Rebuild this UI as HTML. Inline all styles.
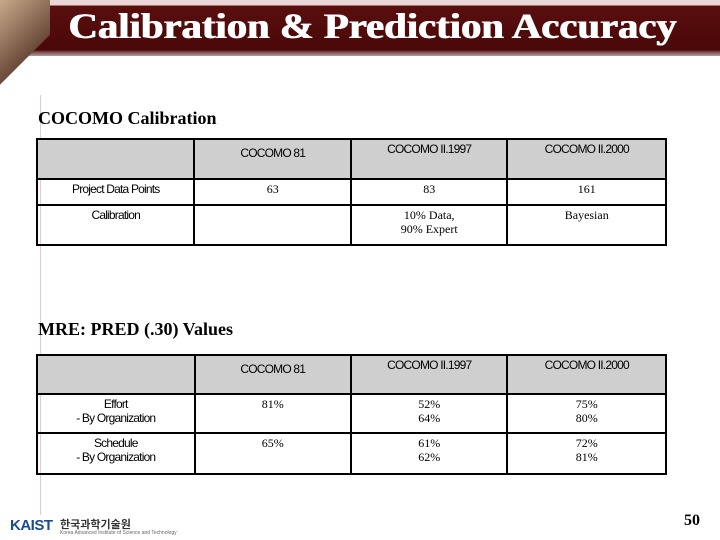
<!DOCTYPE html>
<html><head><meta charset="utf-8"><style>
body{margin:0;width:720px;height:540px;background:#fff;position:relative;overflow:hidden;font-family:"Liberation Serif",serif}
.a{position:absolute}
.hdr{left:0;top:0;width:720px;height:56px;background:linear-gradient(#e9d6d6 0,#e9d6d6 5px,#5a0e0e 6px,#4a0808 50px,#7a4a4a 52px,#f3eaea 60px,#fff 64px)}
.title{left:68px;top:5px;font:bold 36px "Liberation Serif",serif;color:#fff;white-space:nowrap;transform:scaleX(1.13);transform-origin:0 0;text-shadow:1px 0 0 #fff}
.h2{font-size:18px;font-weight:bold;color:#000;white-space:nowrap}
table{position:absolute;border-collapse:collapse;left:36px;width:631px}
td{border:2px solid #000;text-align:center;vertical-align:top;padding:2px 2px 0;font-size:12px;line-height:14px}
td.s{font-family:"Liberation Sans",sans-serif;font-size:12px;letter-spacing:-0.8px}
tr.h td{background:#cfcfcf}
</style></head><body>
<div class="a hdr"></div>
<div class="a" style="left:0;top:0;width:50px;height:90px;background:linear-gradient(135deg,#c9a98a,#6b4a3a 60%,transparent 61%)"></div>
<div class="a" style="left:40px;top:95px;width:1px;height:420px;background:#e6caca"></div>
<div class="a title">Calibration &amp; Prediction Accuracy</div>
<div class="a h2" style="left:38px;top:108px">COCOMO Calibration</div>
<table style="top:138px">
<colgroup><col style="width:158px"><col style="width:157px"><col style="width:157px"><col style="width:159px"></colgroup>
<tr class="h" style="height:40px"><td></td><td class="s" style="padding-top:6px">COCOMO 81</td><td class="s">COCOMO II.1997</td><td class="s">COCOMO II.2000</td></tr>
<tr style="height:26px"><td class="s">Project Data Points</td><td>63</td><td>83</td><td>161</td></tr>
<tr style="height:40px"><td class="s">Calibration</td><td></td><td>10% Data,<br>90% Expert</td><td>Bayesian</td></tr>
</table>
<div class="a h2" style="left:38px;top:319px">MRE: PRED (.30) Values</div>
<table style="top:354px">
<colgroup><col style="width:158px"><col style="width:157px"><col style="width:157px"><col style="width:159px"></colgroup>
<tr class="h" style="height:39px"><td></td><td class="s" style="padding-top:6px">COCOMO 81</td><td class="s">COCOMO II.1997</td><td class="s">COCOMO II.2000</td></tr>
<tr style="height:39px"><td class="s">Effort<br>- By Organization</td><td>81%</td><td>52%<br>64%</td><td>75%<br>80%</td></tr>
<tr style="height:41px"><td class="s">Schedule<br>- By Organization</td><td>65%</td><td>61%<br>62%</td><td>72%<br>81%</td></tr>
</table>
<div class="a" style="left:10px;top:517px;font:bold 15px 'Liberation Sans',sans-serif;color:#1a4d8f;letter-spacing:-0.5px">KAIST</div>
<div class="a" style="left:60px;top:516px;font:bold 11px 'Liberation Sans','Noto Sans CJK KR',sans-serif;color:#333">한국과학기술원</div>
<div class="a" style="left:60px;top:530px;font:5px 'Liberation Sans',sans-serif;color:#666;white-space:nowrap">Korea Advanced Institute of Science and Technology</div>
<div class="a" style="left:684px;top:512px;font:bold 16px 'Liberation Serif',serif">50</div>
</body></html>
